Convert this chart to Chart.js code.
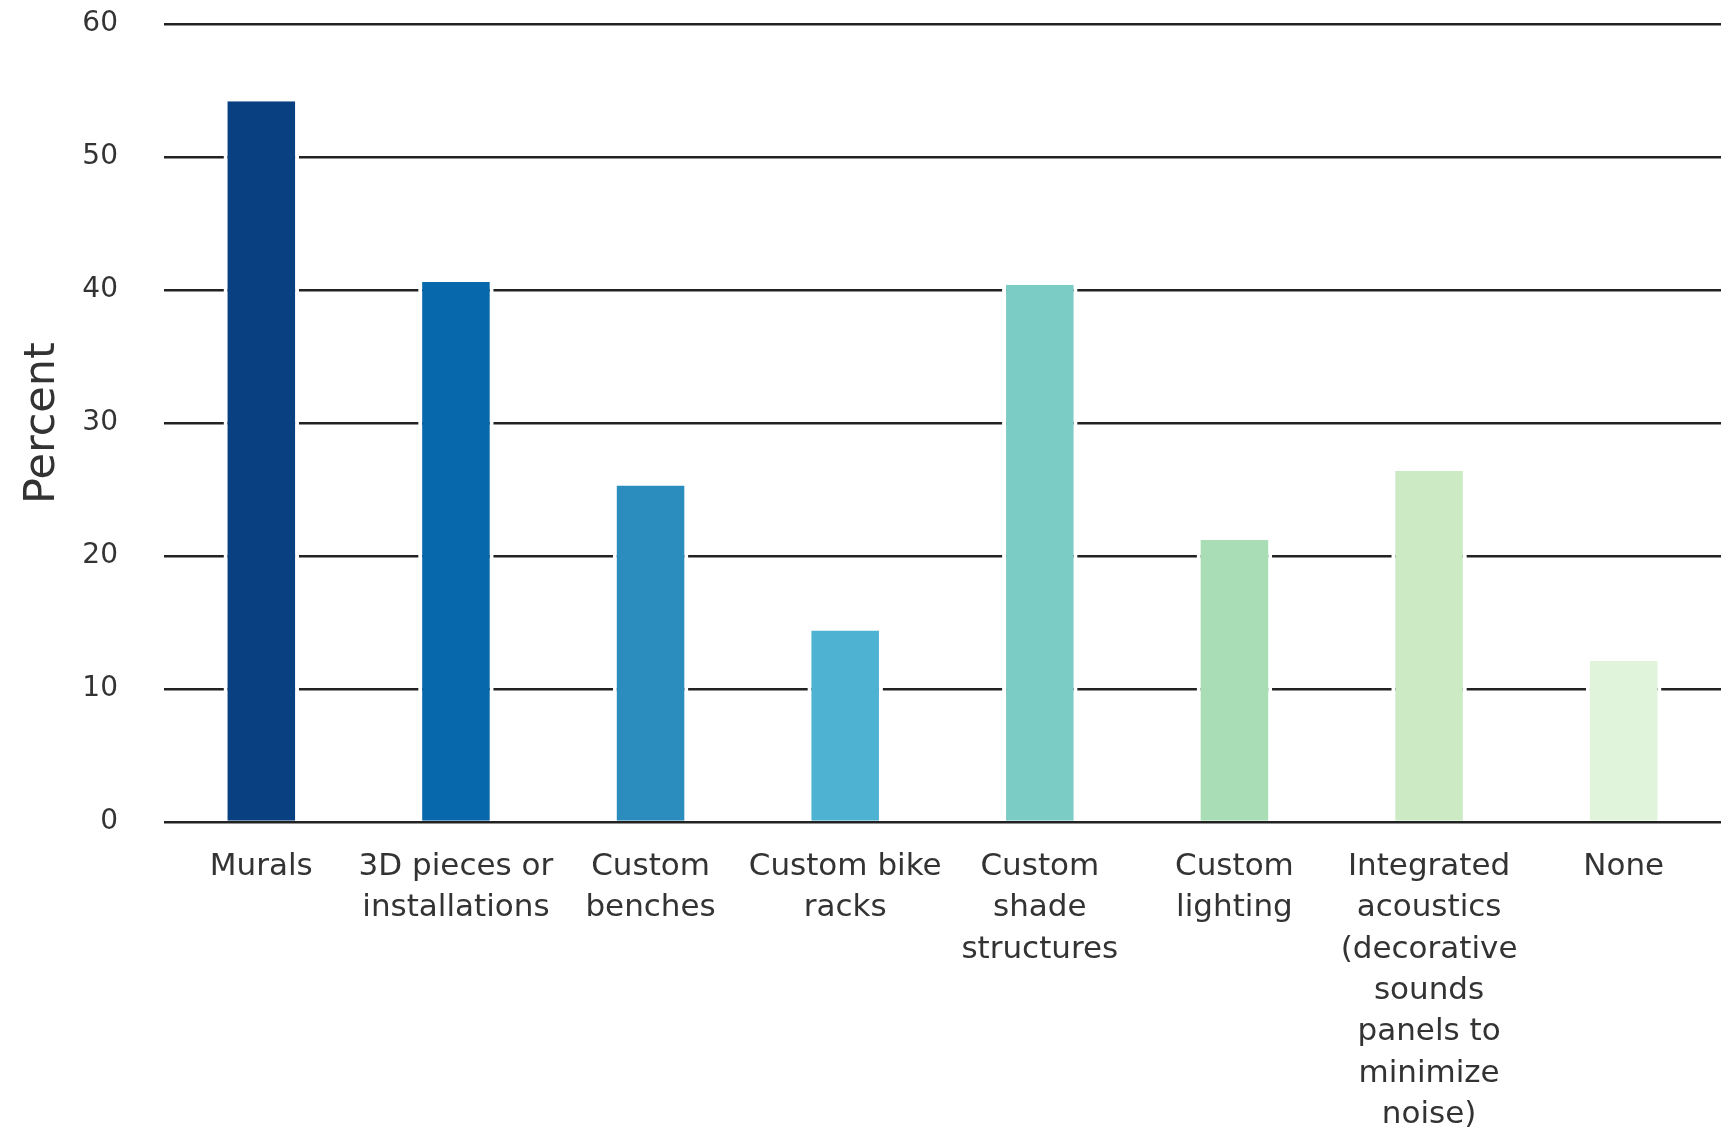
<!DOCTYPE html>
<html>
<head>
<meta charset="utf-8">
<script src="https://cdn.jsdelivr.net/npm/chart.js@4"></script>
<style>
  body { margin: 0; background: #fff; }
  canvas { display: block; }
</style>
</head>
<body>
<canvas id="myChart" width="1734" height="1130"></canvas>
<script>
const categories = [
  'Murals',
  ['3D pieces or', 'installations'],
  ['Custom', 'benches'],
  ['Custom bike', 'racks'],
  ['Custom', 'shade', 'structures'],
  ['Custom', 'lighting'],
  ['Integrated', 'acoustics', '(decorative', 'sounds', 'panels to', 'minimize', 'noise)'],
  'None'
];
const percents = [54.2, 40.6, 25.3, 14.4, 40.4, 21.2, 26.4, 12.1];
const barColors = ['#084081', '#0868ac', '#2b8cbe', '#4eb3d3', '#7bccc4', '#a8ddb5', '#ccebc5', '#e0f3db'];
const yTicks = [0, 10, 20, 30, 40, 50, 60];

const ctx = document.getElementById('myChart');

new Chart(ctx, {
  type: 'bar',
  data: {
    labels: categories,
    datasets: [{
      data: percents,
      backgroundColor: barColors,
      borderColor: '#ffffff',
      borderWidth: { left: 4, right: 4, top: 0, bottom: 0 },
      borderSkipped: false,
      categoryPercentage: 1,
      barPercentage: 0.388
    }]
  },
  options: {
    responsive: false,
    animation: false,
    layout: {
      padding: { top: 24, right: 13, left: 0, bottom: 0 }
    },
    scales: {
      x: {
        afterFit: (axis) => { axis.height = 308; },
        grid: { display: false },
        border: { display: false },
        ticks: {
          color: '#333',
          maxRotation: 0,
          autoSkip: false,
          padding: 16,
          font: { family: 'DejaVu Sans', size: 31, lineHeight: 1.335 }
        }
      },
      y: {
        min: 0,
        max: 60,
        afterBuildTicks: (axis) => { axis.ticks = yTicks.map(v => ({ value: v })); },
        afterFit: (axis) => { axis.width = 164; },
        // invisible tick marks give the gap between labels and gridlines
        grid: { color: '#222', lineWidth: 2.5, drawTicks: true, tickLength: 46, tickColor: 'rgba(0,0,0,0)' },
        border: { display: false },
        ticks: {
          color: '#333',
          padding: 0,
          font: { family: 'DejaVu Sans', size: 28 }
        },
        title: {
          display: true,
          text: 'Percent',
          color: '#333',
          padding: { top: 17, bottom: 0 },
          font: { family: 'DejaVu Sans', size: 43 }
        }
      }
    },
    plugins: {
      legend: { display: false },
      tooltip: { enabled: false }
    }
  }
});
</script>
</body>
</html>
